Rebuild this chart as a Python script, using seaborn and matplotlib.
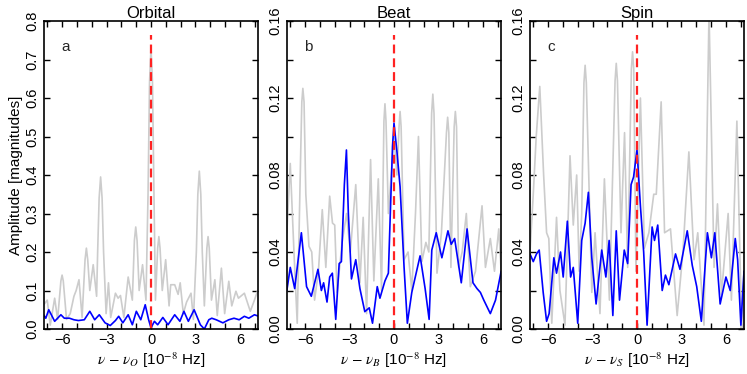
import matplotlib
matplotlib.use("Agg")
import matplotlib.pyplot as plt
import seaborn as sns
import numpy as np

# orbital panel (a)
orb_gray_x = [-7.3, -7.0, -6.8, -6.5, -6.3, -6.08, -6.0, -5.92, -5.7, -5.45, -5.2, -5.05, -4.86, -4.65, -4.45, -4.36,
              -4.27, -4.13, -3.9, -3.67, -3.6, -3.5, -3.4, -3.3, -3.2, -3.03, -2.87, -2.72, -2.4, -2.22, -2.06,
              -1.83, -1.54, -1.26, -1.12, -1.03, -0.94, -0.8, -0.57, -0.34, -0.2, -0.1, 0.0, 0.1, 0.2, 0.3, 0.45,
              0.53, 0.61, 0.76, 0.99, 1.22, 1.33, 1.6, 1.83, 1.97, 2.18, 2.4, 2.7, 2.86, 3.06, 3.16, 3.26, 3.36,
              3.46, 3.6, 3.77, 3.85, 3.93, 4.08, 4.31, 4.47, 4.75, 4.97, 5.25, 5.45, 5.73, 5.9, 6.3, 6.7, 6.98, 7.2]
orb_gray_y = [0.06, 0.075, 0.01, 0.08, 0.025, 0.125, 0.14, 0.125, 0.025, 0.04, 0.085, 0.10, 0.128, 0.03, 0.18, 0.21,
              0.18, 0.10, 0.167, 0.085, 0.2, 0.34, 0.395, 0.34, 0.2, 0.04, 0.12, 0.03, 0.093, 0.08, 0.087,
              0.03, 0.135, 0.075, 0.23, 0.265, 0.23, 0.10, 0.167, 0.075, 0.35, 0.64, 0.73, 0.64, 0.35, 0.075, 0.21,
              0.24, 0.21, 0.10, 0.18, 0.06, 0.115, 0.115, 0.09, 0.12, 0.04, 0.07, 0.093, 0.025, 0.2, 0.35, 0.41,
              0.35, 0.2, 0.06, 0.21, 0.24, 0.21, 0.075, 0.128, 0.035, 0.158, 0.04, 0.124, 0.06, 0.098, 0.08, 0.093,
              0.046, 0.075, 0.10]
orb_blue_x = [-7.25, -7.1, -6.9, -6.5, -6.08, -5.85, -5.5, -5.2, -4.9, -4.5, -4.13, -3.8, -3.49, -3.1, -2.75, -2.4,
              -2.18, -1.9, -1.54, -1.26, -0.99, -0.69, -0.39, -0.16, 0.0, 0.23, 0.45, 0.8, 1.15, 1.6, 1.95, 2.22,
              2.52, 2.91, 3.33, 3.6, 3.9, 4.1, 4.4, 4.85, 5.25, 5.6, 5.95, 6.3, 6.6, 6.98, 7.2]
orb_blue_y = [0.037, 0.028, 0.05, 0.02, 0.037, 0.028, 0.028, 0.024, 0.022, 0.024, 0.046, 0.024, 0.037, 0.016, 0.009,
              0.022, 0.033, 0.016, 0.037, 0.011, 0.046, 0.024, 0.063, 0.024, 0.003, 0.02, 0.011, 0.03, 0.011, 0.037,
              0.02, 0.046, 0.02, 0.05, 0.011, 0.0, 0.024, 0.028, 0.024, 0.016, 0.024, 0.028, 0.024, 0.033, 0.028,
              0.037, 0.034]

# beat panel (b)
beat_gray_x = [-7.23, -7.0, -6.75, -6.53, -6.3, -6.22, -6.15, -6.07, -5.95, -5.74, -5.55, -5.36, -5.1, -4.84, -4.6,
               -4.34, -4.15, -4.0, -3.84, -3.5, -3.2, -2.95, -2.58, -2.3, -2.08, -1.85, -1.58, -1.36, -1.06, -0.84,
               -0.68, -0.61, -0.54, -0.38, 0.0, 0.2, 0.34, 0.41, 0.48, 0.68, 0.95, 1.2, 1.45, 1.65, 1.88, 2.15, 2.35,
               2.54, 2.62, 2.7, 2.9, 3.2, 3.54, 3.62, 3.7, 3.84, 4.06, 4.14, 4.22, 4.36, 4.6, 4.88, 5.15, 5.5, 5.94,
               6.17, 6.5, 6.78, 7.07, 7.23]
beat_gray_y = [0.05, 0.086, 0.04, 0.003, 0.09, 0.118, 0.125, 0.118, 0.07, 0.043, 0.04, 0.015, 0.03, 0.062, 0.032,
               0.069, 0.055, 0.054, 0.019, 0.045, 0.06, 0.04, 0.075, 0.024, 0.058, 0.008, 0.088, 0.025, 0.078, 0.02,
               0.108, 0.117, 0.108, 0.06, 0.10, 0.08, 0.105, 0.113, 0.105, 0.036, 0.04, 0.02, 0.06, 0.10, 0.035,
               0.045, 0.04, 0.112, 0.122, 0.112, 0.029, 0.05, 0.102, 0.11, 0.102, 0.032, 0.105, 0.113, 0.105, 0.032,
               0.04, 0.06, 0.022, 0.03, 0.064, 0.032, 0.047, 0.03, 0.052, 0.03]
beat_blue_x = [-7.23, -7.0, -6.7, -6.25, -5.9, -5.58, -5.13, -4.9, -4.75, -4.52, -4.34, -4.16, -3.93, -3.7, -3.55,
               -3.35, -3.21, -3.08, -2.87, -2.58, -2.3, -1.97, -1.67, -1.45, -1.13, -0.95, -0.61, -0.38, -0.1, 0.0,
               0.2, 0.41, 0.68, 0.9, 1.2, 1.76, 2.1, 2.37, 2.55, 2.85, 3.23, 3.64, 3.86, 4.09, 4.54, 4.93, 5.33, 5.6,
               5.83, 6.06, 6.5, 6.85, 7.23]
beat_blue_y = [0.02, 0.032, 0.021, 0.05, 0.022, 0.017, 0.031, 0.02, 0.024, 0.014, 0.027, 0.029, 0.005, 0.034, 0.035,
               0.075, 0.093, 0.06, 0.026, 0.036, 0.021, 0.009, 0.011, 0.003, 0.022, 0.016, 0.025, 0.029, 0.095, 0.107,
               0.092, 0.074, 0.032, 0.003, 0.019, 0.038, 0.021, 0.005, 0.041, 0.05, 0.037, 0.051, 0.044, 0.047,
               0.024, 0.052, 0.024, 0.021, 0.019, 0.015, 0.008, 0.015, 0.03]

# spin panel (c)
spin_gray_x = [-7.22, -7.0, -6.8, -6.56, -6.3, -6.1, -5.95, -5.75, -5.43, -5.2, -4.86, -4.52, -4.3, -4.07, -3.9,
               -3.73, -3.58, -3.5, -3.42, -3.05, -2.83, -2.5, -2.2, -1.86, -1.48, -1.4, -1.32, -1.08, -0.84, -0.63,
               -0.38, -0.3, -0.22, -0.07, 0.23, 0.5, 0.8, 1.13, 1.3, 1.63, 1.86, 2.26, 2.71, 3.1, 3.5, 3.85, 4.1,
               4.52, 4.86, 5.2, 5.43, 5.7, 6.15, 6.37, 6.74, 7.06, 7.22]
spin_gray_y = [0.04, 0.07, 0.1, 0.126, 0.08, 0.05, 0.047, 0.003, 0.058, 0.02, 0.002, 0.09, 0.054, 0.08, 0.03, 0.06,
               0.128, 0.137, 0.128, 0.019, 0.05, 0.008, 0.078, 0.015, 0.129, 0.138, 0.129, 0.05, 0.102, 0.032,
               0.135, 0.144, 0.135, 0.03, 0.12, 0.042, 0.05, 0.07, 0.07, 0.118, 0.05, 0.052, 0.007, 0.04, 0.092,
               0.036, 0.05, 0.002, 0.165, 0.032, 0.065, 0.018, 0.06, 0.015, 0.108, 0.0, 0.03]
spin_blue_x = [-7.22, -7.0, -6.78, -6.6, -6.33, -6.1, -5.93, -5.61, -5.43, -5.16, -4.98, -4.7, -4.48, -4.3, -4.0,
               -3.73, -3.5, -3.28, -3.05, -2.76, -2.38, -2.1, -1.88, -1.63, -1.4, -1.18, -0.86, -0.63, -0.4, -0.23,
               0.0, 0.23, 0.45, 0.68, 1.02, 1.18, 1.4, 1.7, 1.92, 2.15, 2.6, 2.9, 3.39, 3.73, 4.03, 4.34, 4.75, 5.02,
               5.25, 5.61, 6.0, 6.29, 6.63, 6.79, 7.01, 7.22]
spin_blue_y = [0.039, 0.035, 0.039, 0.041, 0.019, 0.004, 0.008, 0.037, 0.029, 0.04, 0.027, 0.056, 0.027, 0.032,
               0.003, 0.046, 0.055, 0.071, 0.037, 0.013, 0.041, 0.027, 0.046, 0.007, 0.051, 0.015, 0.041, 0.034,
               0.075, 0.079, 0.093, 0.064, 0.04, 0.002, 0.053, 0.046, 0.054, 0.02, 0.028, 0.023, 0.039, 0.031,
               0.051, 0.033, 0.022, 0.004, 0.05, 0.037, 0.05, 0.013, 0.027, 0.02, 0.047, 0.036, 0.002, 0.03]

titles = ["Orbital", "Beat", "Spin"]
letters = ["a", "b", "c"]
subs = ["O", "B", "S"]

sns.set_theme(style="ticks")
plt.rcParams["font.family"] = ["Liberation Sans", "DejaVu Sans"]
plt.rcParams["mathtext.fontset"] = "stix"

fig = plt.figure(figsize=(7.47, 3.74), dpi=100)
lefts = [44 / 747, 287 / 747, 530 / 747]
w = 214 / 747
bot = 1 - 329 / 374
h = (329 - 21) / 374

panels = [(orb_gray_x, orb_gray_y, orb_blue_x, orb_blue_y),
          (beat_gray_x, beat_gray_y, beat_blue_x, beat_blue_y),
          (spin_gray_x, spin_gray_y, spin_blue_x, spin_blue_y)]

for i, (gx, gy, bx, by) in enumerate(panels):
    ax = fig.add_axes([lefts[i], bot, w, h])
    sns.lineplot(x=gx, y=gy, ax=ax, color="#cccccc", lw=1.2, estimator=None, sort=False)
    sns.lineplot(x=bx, y=by, ax=ax, color="#0000ff", lw=1.2, estimator=None, sort=False)
    ax.axvline(0, ymin=0, ymax=0.955, color="#ff2222", lw=1.6, dashes=(4, 2.2))
    ax.set_xlim(-7.22, 7.22)
    if i == 0:
        ax.set_ylim(0, 0.8)
        ax.set_yticks(np.arange(0, 0.81, 0.1))
        ax.set_yticklabels(["%.1f" % v for v in np.arange(0, 0.81, 0.1)])
        ax.set_ylabel("Amplitude [magnitudes]", fontsize=11, labelpad=2)
    else:
        ax.set_ylim(0, 0.16)
        ax.set_yticks(np.arange(0, 0.161, 0.04))
        ax.set_yticklabels(["%.2f" % v for v in np.arange(0, 0.161, 0.04)])
        ax.set_yticks(np.arange(0, 0.161, 0.02), minor=True)
    ax.set_xticks([-6, -3, 0, 3, 6])
    ax.set_xticks(np.arange(-7, 8, 1), minor=True)
    ax.tick_params(which="both", direction="in", top=True, right=True, length=4, width=1,
                   color="black", labelcolor="black", labelsize=10.5, pad=3)
    ax.tick_params(axis="y", labelrotation=90)
    for lab in ax.get_yticklabels():
        lab.set_va("center")
    for s in ax.spines.values():
        s.set_linewidth(1.2)
        s.set_color("black")
    ax.set_title(titles[i], fontsize=12, pad=2, color="black")
    ax.set_xlabel(r"$\nu\,-\,\nu_{%s}$ [10$^{-8}$ Hz]" % subs[i], fontsize=11, labelpad=2, color="black")
    ax.yaxis.label.set_color("black")
    ax.text(0.1, 0.915, letters[i], transform=ax.transAxes, fontsize=11, ha="center", va="center")

fig.savefig("out.png", dpi=100)
